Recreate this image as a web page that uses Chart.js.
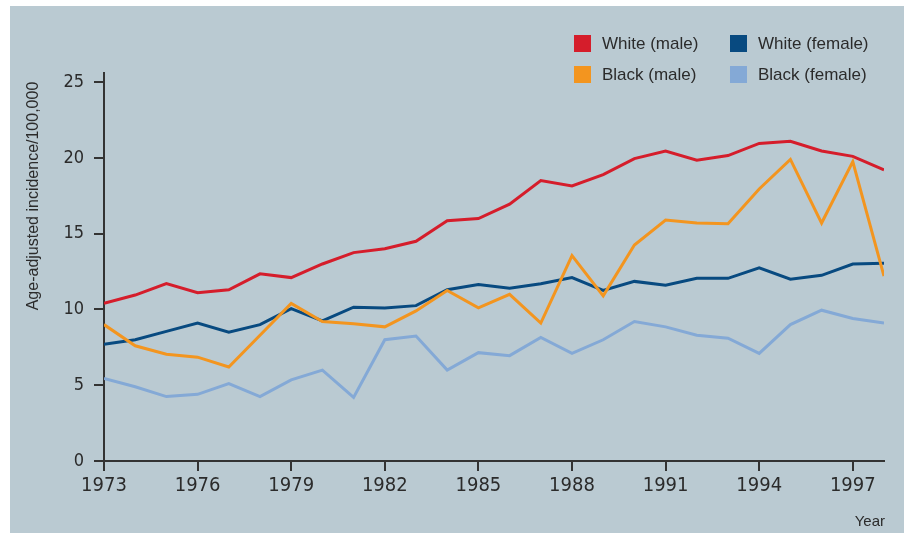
<!DOCTYPE html>
<html lang="en">
<head>
  <meta charset="UTF-8">
  <title>Age-adjusted incidence 1973-1998</title>
  <script src="https://cdn.jsdelivr.net/npm/chart.js"></script>
  <style>
    html, body { margin: 0; padding: 0; background: #fff; }
    .panel { position: absolute; left: 10px; top: 6px; width: 894px; height: 527px; background: #bacad2; }
    .wrap { position: absolute; left: 0; top: 0; width: 904px; height: 533px; }
  </style>
</head>
<body>
  <div class="panel"></div>
  <div class="wrap"><canvas id="incChart"></canvas></div>

  <script>
    const years = [1973, 1974, 1975, 1976, 1977, 1978, 1979, 1980, 1981, 1982, 1983, 1984, 1985,
                   1986, 1987, 1988, 1989, 1990, 1991, 1992, 1993, 1994, 1995, 1996, 1997, 1998];
    const whiteMale   = [10.4, 10.95, 11.7, 11.1, 11.3, 12.35, 12.1, 13.0, 13.75, 14.0, 14.5, 15.85, 16.0,
                         16.95, 18.5, 18.15, 18.9, 19.95, 20.45, 19.85, 20.15, 20.95, 21.1, 20.45, 20.1, 19.2];
    const whiteFemale = [7.7, 8.0, 8.55, 9.1, 8.5, 9.0, 10.05, 9.25, 10.15, 10.1, 10.25, 11.3, 11.65,
                         11.4, 11.7, 12.1, 11.25, 11.85, 11.6, 12.05, 12.05, 12.75, 12.0, 12.25, 13.0, 13.05];
    const blackMale   = [9.0, 7.6, 7.05, 6.85, 6.2, 8.3, 10.4, 9.2, 9.05, 8.85, 9.9, 11.25, 10.1,
                         11.0, 9.1, 13.55, 10.9, 14.25, 15.9, 15.7, 15.65, 17.95, 19.9, 15.7, 19.75, 12.2];
    const blackFemale = [5.45, 4.9, 4.25, 4.4, 5.1, 4.25, 5.35, 6.0, 4.2, 8.0, 8.25, 6.0, 7.15,
                         6.95, 8.15, 7.1, 8.0, 9.2, 8.85, 8.3, 8.1, 7.1, 9.0, 9.95, 9.4, 9.1];
    const xTicks = [1973, 1976, 1979, 1982, 1985, 1988, 1991, 1994, 1997];
    const yTicks = [0, 5, 10, 15, 20, 25];

    const tickFont = '"DejaVu Sans Condensed", "Liberation Sans Narrow", sans-serif';
    const textFont = '"Liberation Sans", Arial, sans-serif';
    const ink = '#2b2b2b';

    function series(label, values, color, order) {
      return {
        label,
        data: years.map((yr, i) => ({ x: yr, y: values[i] })),
        borderColor: color,
        backgroundColor: color,
        borderWidth: 3,
        pointRadius: 0,
        tension: 0,
        fill: false,
        order
      };
    }

    // legend in a 2x2 grid plus the free-standing axis captions
    const extras = {
      id: 'extras',
      afterDraw(chart) {
        const ctx = chart.ctx;
        ctx.save();
        ctx.font = '17px ' + textFont;
        ctx.textBaseline = 'middle';
        ctx.textAlign = 'left';
        chart.data.datasets.forEach((ds, i) => {
          const x = 574 + (i % 2) * 156;
          const y = 35 + Math.floor(i / 2) * 31;
          ctx.fillStyle = ds.borderColor;
          ctx.fillRect(x, y, 17, 17);
          ctx.fillStyle = ink;
          ctx.fillText(ds.label, x + 28, y + 9);
        });

        ctx.font = '15px ' + textFont;
        ctx.fillStyle = ink;
        ctx.textAlign = 'right';
        ctx.textBaseline = 'alphabetic';
        ctx.fillText('Year', chart.chartArea.right + 1, 526);

        ctx.font = '16px ' + textFont;
        ctx.translate(34, 196);
        ctx.rotate(-Math.PI / 2);
        ctx.textAlign = 'center';
        ctx.textBaseline = 'middle';
        ctx.fillText('Age-adjusted incidence/100,000', 0, 0);
        ctx.restore();
      }
    };

    new Chart(document.getElementById('incChart'), {
      type: 'line',
      data: {
        datasets: [
          series('White (male)', whiteMale, '#d51d2b', 1),
          series('White (female)', whiteFemale, '#084a80', 2),
          series('Black (male)', blackMale, '#f3951f', 0),
          series('Black (female)', blackFemale, '#84a9d6', 3)
        ]
      },
      options: {
        responsive: true,
        maintainAspectRatio: false,
        animation: false,
        layout: { padding: { left: 0, right: 20, top: 73, bottom: 0 } },
        plugins: { legend: { display: false }, tooltip: { enabled: false } },
        scales: {
          x: {
            type: 'linear',
            min: 1973,
            max: 1998,
            afterBuildTicks: s => { s.ticks = xTicks.map(v => ({ value: v })); },
            afterFit: s => { s.height = 72; },
            border: { display: true, color: '#333', width: 2 },
            grid: { drawOnChartArea: false, drawTicks: true, tickLength: 10, color: '#333', lineWidth: 2 },
            ticks: {
              autoSkip: false,
              maxRotation: 0,
              padding: 3,
              color: ink,
              font: { family: tickFont, size: 20 },
              callback: v => String(v)
            }
          },
          y: {
            min: 0,
            max: 25.6,
            afterBuildTicks: s => { s.ticks = yTicks.map(v => ({ value: v })); },
            afterFit: s => { s.width = 104; },
            border: { display: true, color: '#333', width: 2 },
            grid: { drawOnChartArea: false, drawTicks: true, tickLength: 10, color: '#333', lineWidth: 2 },
            ticks: {
              padding: 10,
              color: ink,
              font: { family: tickFont, size: 18 },
              callback: v => String(v)
            }
          }
        }
      },
      plugins: [extras]
    });
  </script>
</body>
</html>
